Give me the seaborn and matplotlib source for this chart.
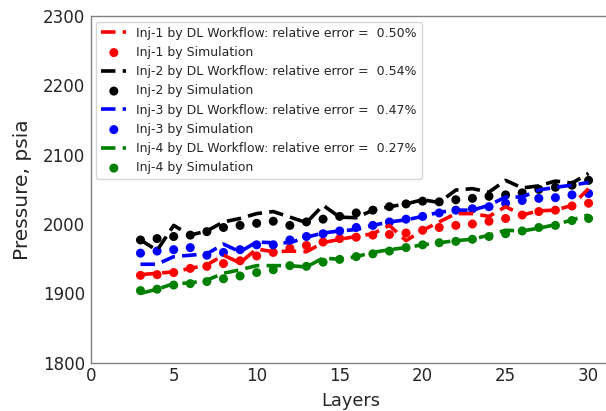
import matplotlib
matplotlib.use("Agg")
import matplotlib.pyplot as plt
import seaborn as sns
import numpy as np

layers = list(range(3, 31))

inj1_sim = [1926, 1927, 1930, 1936, 1939, 1943, 1947, 1954, 1959, 1965, 1969, 1974, 1979, 1981,
            1984, 1985, 1987, 1991, 1995, 1998, 2000, 2004, 2008, 2013, 2018, 2020, 2026, 2030]
inj1_dl = [1927, 1929, 1931, 1936, 1941, 1955, 1944, 1964, 1960, 1961, 1960, 1973, 1978, 1982,
           1986, 1998, 1976, 1991, 2003, 2015, 2015, 2011, 2025, 2013, 2019, 2020, 2027, 2051]
inj2_sim = [1977, 1979, 1982, 1984, 1989, 1995, 1998, 2001, 2004, 1998, 2003, 2007, 2011, 2016,
            2020, 2025, 2029, 2033, 2032, 2035, 2037, 2040, 2042, 2045, 2050, 2053, 2056, 2063]
inj2_dl = [1977, 1962, 1998, 1984, 1990, 2003, 2008, 2015, 2018, 2010, 2002, 2027, 2010, 2009,
           2020, 2025, 2029, 2035, 2031, 2049, 2051, 2046, 2063, 2052, 2055, 2062, 2059, 2073]
inj3_sim = [1958, 1961, 1963, 1966, 1955, 1959, 1963, 1970, 1970, 1977, 1982, 1986, 1990, 1995,
            1998, 2003, 2007, 2011, 2016, 2020, 2022, 2025, 2030, 2034, 2037, 2038, 2042, 2044]
inj3_dl = [1942, 1942, 1953, 1955, 1957, 1971, 1960, 1974, 1973, 1973, 1981, 1987, 1990, 1992,
           1998, 2003, 2006, 2011, 2017, 2020, 2020, 2027, 2039, 2039, 2049, 2053, 2056, 2060]
inj4_sim = [1904, 1906, 1912, 1914, 1917, 1921, 1925, 1930, 1934, 1940, 1939, 1945, 1949, 1953,
            1957, 1961, 1966, 1970, 1973, 1975, 1978, 1982, 1986, 1990, 1995, 1998, 2005, 2008]
inj4_dl = [1900, 1906, 1914, 1915, 1919, 1929, 1934, 1940, 1940, 1940, 1938, 1951, 1949, 1953,
           1959, 1963, 1966, 1970, 1973, 1976, 1978, 1984, 1991, 1990, 1994, 1999, 2006, 2013]

names = ["Inj-1", "Inj-2", "Inj-3", "Inj-4"]
errors = ["0.50%", "0.54%", "0.47%", "0.27%"]
colors = ["red", "black", "blue", "green"]
dl_series = [inj1_dl, inj2_dl, inj3_dl, inj4_dl]
sim_series = [inj1_sim, inj2_sim, inj3_sim, inj4_sim]

sns.set_style("white")
plt.rcParams["font.family"] = ["DejaVu Sans"]
plt.rcParams["axes.edgecolor"] = "#808080"

fig = plt.figure(figsize=(6.06, 4.11), dpi=100)
ax = fig.add_axes([90.7 / 606, (411 - 362.7) / 411, (611 - 90.7) / 606, (362.7 - 16) / 411])

for name, err, col, dl, sim in zip(names, errors, colors, dl_series, sim_series):
    sns.lineplot(x=layers, y=dl, ax=ax, color=col, linewidth=2.6,
                 label=f"{name} by DL Workflow: relative error =  {err}")
    ax.lines[-1].set_dashes([4, 2])
    sns.scatterplot(x=layers, y=sim, ax=ax, color=col, s=42, edgecolor="none",
                    label=f"{name} by Simulation")

ax.set_xlim(0, 31.35)
ax.set_ylim(1800, 2300)
ax.set_xticks([0, 5, 10, 15, 20, 25, 30])
ax.set_yticks([1800, 1900, 2000, 2100, 2200, 2300])
ax.tick_params(axis="both", labelsize=12, length=0)
ax.tick_params(axis="y", pad=4)
ax.tick_params(axis="x", pad=3)
ax.set_xlabel("Layers", fontsize=12.8, labelpad=5)
ax.set_ylabel("Pressure, psia", fontsize=14.5, labelpad=8)
for s in ["top", "left", "bottom", "right"]:
    ax.spines[s].set_visible(True)
    ax.spines[s].set_color("#808080")
    ax.spines[s].set_linewidth(1.0)

handles, labels = ax.get_legend_handles_labels()
ax.legend(handles, labels, loc="upper left", fontsize=9, frameon=True,
          framealpha=0.8, edgecolor="#cccccc", labelspacing=0.5,
          handlelength=2.0, borderaxespad=0.45)

fig.savefig("out.png", dpi=100)
